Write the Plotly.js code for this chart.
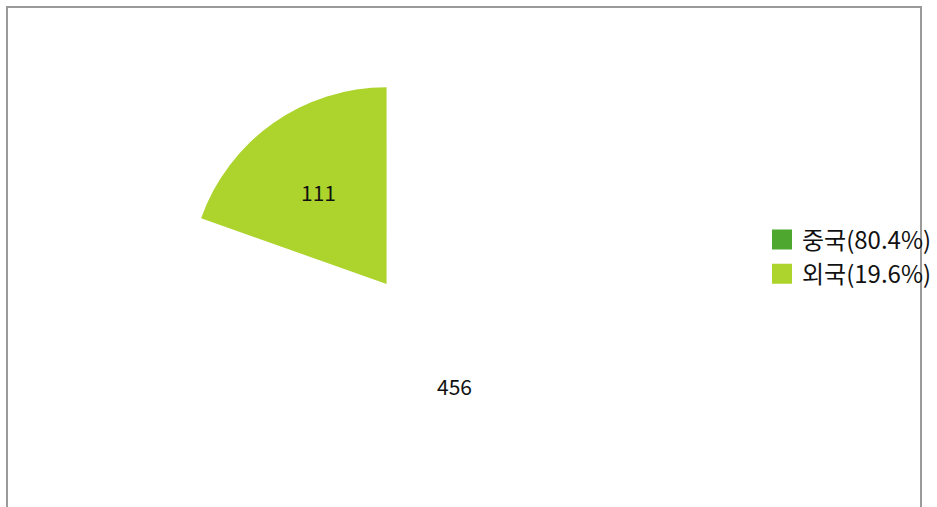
<!DOCTYPE html>
<html>
<head>
<meta charset="utf-8">
<script src="https://cdn.plot.ly/plotly-3.0.1.min.js"></script>
<style>html,body{margin:0;padding:0;background:#fff;}#chart{width:937px;height:507px;}</style>
</head>
<body>
<div id="chart"></div>
<script>
var categories = ['중국', '외국'];
var values = [456, 111];
var legendColors = ['#4EA72E', '#ADD32D'];
var sliceColors = ['#FFFFFF', '#ADD32D'];

var total = values.reduce(function(a, b) { return a + b; }, 0);
var legendNames = categories.map(function(c, i) {
  return c + '(' + (values[i] / total * 100).toFixed(1) + '%)';
});

var FONT = '"Noto Sans CJK KR", "Noto Sans", sans-serif';

// pie geometry (paper fractions)
var W = 937, H = 507;
var domX = [190 / W, 584 / W];
var domY = [26 / H, 420 / H];
var cx = (domX[0] + domX[1]) / 2, cy = (domY[0] + domY[1]) / 2;
var rx = (domX[1] - domX[0]) / 2, ry = (domY[1] - domY[0]) / 2;
var labelFrac = 0.6;

var traces = [{
  type: 'pie',
  labels: categories,
  values: values,
  sort: false,
  direction: 'clockwise',
  rotation: 0,
  textinfo: 'none',
  marker: {colors: sliceColors, line: {width: 0}},
  showlegend: false,
  hoverinfo: 'label+value+percent',
  domain: {x: domX, y: domY}
}];

categories.forEach(function(c, i) {
  traces.push({
    type: 'scatter',
    mode: 'markers',
    x: [null],
    y: [null],
    name: legendNames[i],
    legendgroup: 'g' + i,
    marker: {symbol: 'square', size: 16, color: legendColors[i], line: {width: 4, color: legendColors[i]}},
    showlegend: true,
    hoverinfo: 'skip'
  });
});

// value labels placed at slice mid-angles, derived from the data
var annotations = [];
var cum = 0;
values.forEach(function(v, i) {
  var mid = (cum + v / 2) / total * 2 * Math.PI; // clockwise from 12 o'clock
  cum += v;
  annotations.push({
    xref: 'paper', yref: 'paper',
    x: cx + labelFrac * rx * Math.sin(mid),
    y: cy + labelFrac * ry * Math.cos(mid),
    yshift: -5,
    text: String(v),
    showarrow: false,
    xanchor: 'center', yanchor: 'middle',
    font: {family: FONT, size: 21, color: '#111111'}
  });
});

var layout = {
  width: W,
  height: H,
  margin: {l: 0, r: 0, t: 0, b: 0},
  paper_bgcolor: '#ffffff',
  plot_bgcolor: '#ffffff',
  font: {family: FONT, color: '#111111'},
  xaxis: {visible: false, domain: [0, 1]},
  yaxis: {visible: false, domain: [0, 1]},
  showlegend: true,
  legend: {
    x: 763 / W,
    xanchor: 'left',
    y: 250 / H,
    yanchor: 'middle',
    font: {family: FONT, size: 24, color: '#111111'},
    bgcolor: 'rgba(0,0,0,0)',
    traceorder: 'grouped',
    tracegroupgap: 0,
    itemclick: false
  },
  annotations: annotations,
  shapes: [{
    type: 'path',
    xref: 'paper', yref: 'paper',
    path: 'M 0.00747,-0.1 L 0.00747,0.98619 L 0.98399,0.98619 L 0.98399,-0.1',
    line: {color: '#9a9a9a', width: 2},
    layer: 'above'
  }]
};

Plotly.newPlot('chart', traces, layout, {displayModeBar: false, staticPlot: true});
</script>
</body>
</html>
